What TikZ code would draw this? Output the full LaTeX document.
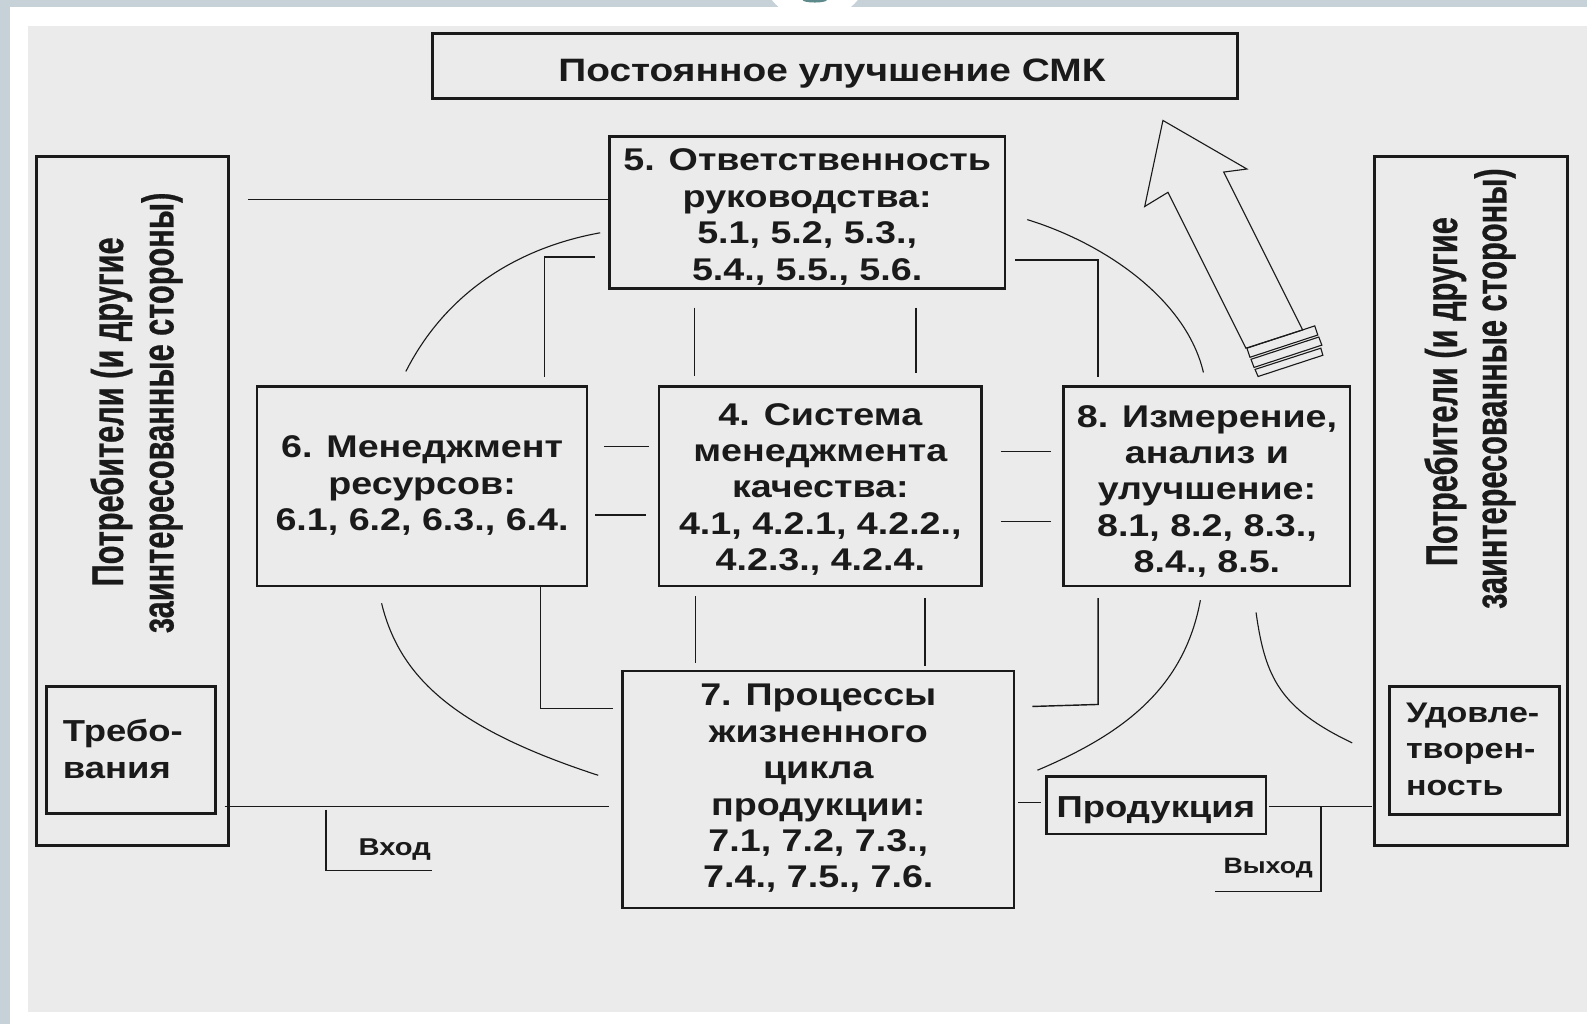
\documentclass[tikz,border=0pt]{standalone}
\usepackage{fontspec}
\setmainfont{Liberation Sans}
\newfontfamily\bx[FakeStretch=1.2]{Liberation Sans}
\newfontfamily\nw[FakeStretch=0.69,FakeBold=0.6]{Liberation Sans}
\definecolor{ink}{HTML}{1A1A1A}
\definecolor{barc}{HTML}{C6D1D8}
\definecolor{panel}{HTML}{EBEBEB}
\definecolor{dot}{HTML}{5E8A8C}
\tikzset{
  frame/.style={draw=ink, line width=2.6pt, inner sep=0pt},
  txt/.style={inner sep=0pt, align=center, text=ink,
    font=\bx\bfseries\fontsize{31}{36}\selectfont},
  side/.style={draw=ink, line width=2.8pt, inner sep=0pt},
  rot/.style={inner sep=0pt, rotate=90, text=ink, font=\nw\bfseries\fontsize{44}{48}\selectfont},
  conn/.style={draw=ink, line width=1.4pt},
  curv/.style={draw=ink, line width=1.1pt},
  lbl/.style={inner sep=0pt, text=ink, font=\bx\bfseries\fontsize{24}{28}\selectfont},
  arr/.style={draw=ink, line width=1.1pt, line join=miter}
}
\begin{document}
\begin{tikzpicture}[x=1pt,y=-1pt]
\useasboundingbox (0,0) rectangle (1568,1012);
% background
\fill[barc] (0,0) rectangle (1568,1012);
\fill[white] (10,7) rectangle (1568,1012);
\begin{scope}
  \clip (0,0) rectangle (1568,1012);
  \fill[white] (805,-35) circle (55);
  \fill[dot] (805,0) ellipse (12 and 2.5);
\end{scope}
\fill[panel] (28,26) rectangle (1568,1000);

% top box
\node[frame, line width=3.2pt, minimum width=796, minimum height=64] (top) at (825,65) {};
\node[txt, font=\bx\bfseries\fontsize{32}{36}\selectfont] (topt) at (822,73) {Постоянное улучшение СМК};

% side panels
\node[side, minimum width=190, minimum height=680] (lp) at (131,495) {};
\node[side, minimum width=191, minimum height=680] (rp) at (1453.5,495) {};
\node[rot] (lt1) at (110,407) {Потребители (и другие};
\node[rot] (lt2) at (160,408) {заинтересованные стороны)};
\node[rot] (rt1) at (1428,387) {Потребители (и другие};
\node[rot] (rt2) at (1477,384) {заинтересованные стороны)};

\node[side, minimum width=167, minimum height=126] (treb) at (129.5,741) {};
\node[txt, anchor=west, align=left, font=\bx\bfseries\fontsize{30}{36}\selectfont] (trebt) at (62,740) {Требо-\\вания};
\node[side, minimum width=168, minimum height=127] (udov) at (1457,741.5) {};
\node[txt, anchor=west, align=left, font=\bx\bfseries\fontsize{28}{36}\selectfont] (udovt) at (1389,740) {Удовле-\\творен-\\ность};

% main boxes
\node[frame, minimum width=391, minimum height=150] (b5) at (797.5,210) {};
\node[txt] (b5t) at (797.5,214.5)
  {5. Ответственность\\руководства:\\5.1, 5.2, 5.3.,\\5.4., 5.5., 5.6.};
\node[frame, minimum width=326, minimum height=197] (b6) at (417,480.5) {};
\node[txt] (b6t) at (417,480)
  {6. Менеджмент\\ресурсов:\\6.1, 6.2, 6.3., 6.4.};
\node[frame, minimum width=319, minimum height=197] (b4) at (810.5,480.5) {};
\node[txt] (b4t) at (810.5,483.5)
  {4. Система\\менеджмента\\качества:\\4.1, 4.2.1, 4.2.2.,\\4.2.3., 4.2.4.};
\node[frame, minimum width=283, minimum height=197] (b8) at (1192.5,480.5) {};
\node[txt] (b8t) at (1192.5,485.5)
  {8. Измерение,\\анализ и\\улучшение:\\8.1, 8.2, 8.3.,\\8.4., 8.5.};
\node[frame, minimum width=387, minimum height=234] (b7) at (808.5,780) {};
\node[txt] (b7t) at (808.5,779)
  {7. Процессы\\жизненного\\цикла\\продукции:\\7.1, 7.2, 7.3.,\\7.4., 7.5., 7.6.};
\node[frame, minimum width=217, minimum height=57] (prod) at (1142.5,795.5) {};
\node[txt, font=\bx\bfseries\fontsize{30}{36}\selectfont] (prodt) at (1142,800) {Продукция};

% labels
\node[lbl] (vhod) at (390,839) {Вход};
\node[lbl, font=\bx\bfseries\fontsize{22}{26}\selectfont] (vyhod) at (1253,858) {Выход};

% coordinates for free connector ends
\coordinate (a1) at (245,197);
\coordinate (a2) at (588,254); \coordinate (a3) at (538,254); \coordinate (a4) at (538,372);
\coordinate (a5) at (686,304); \coordinate (a6) at (686,371);
\coordinate (a7) at (905,304); \coordinate (a8) at (905,369);
\coordinate (a9) at (1003,257); \coordinate (a10) at (1085,257); \coordinate (a11) at (1085,372);
\coordinate (h1) at (597,441); \coordinate (h2) at (641,441);
\coordinate (h3) at (588,509); \coordinate (h4) at (638,509);
\coordinate (h5) at (989,446); \coordinate (h6) at (1038,446);
\coordinate (h7) at (989,515); \coordinate (h8) at (1038,515);
\coordinate (v1) at (687,589); \coordinate (v2) at (687,655);
\coordinate (v3) at (914,591); \coordinate (v4) at (914,658);
\coordinate (g1) at (534,580); \coordinate (g2) at (534,700); \coordinate (g3) at (606,700);
\coordinate (g4) at (1085,591); \coordinate (g5) at (1085,696); \coordinate (g6) at (1020,698);
\coordinate (in1) at (222,797); \coordinate (in2) at (602,797);
\coordinate (vx1) at (322,800); \coordinate (vx2) at (322,860); \coordinate (vx3) at (427,860);
\coordinate (p1) at (1006,793); \coordinate (p2) at (1029,793);
\coordinate (o1) at (1254,797); \coordinate (o2) at (1356,797);
\coordinate (y1) at (1305,797); \coordinate (y2) at (1305,881); \coordinate (y3) at (1200,881);

% straight connectors
\draw[conn] (a1) -- (b5.west |- a1);
\draw[conn] (a2) -- (a3) -- (a4);
\draw[conn] (a5) -- (a6);
\draw[conn] (a7) -- (a8);
\draw[conn] (a9) -- (a10) -- (a11);
\draw[conn] (h1) -- (h2);
\draw[conn] (h3) -- (h4);
\draw[conn] (h5) -- (h6);
\draw[conn] (h7) -- (h8);
\draw[conn] (v1) -- (v2);
\draw[conn] (v3) -- (v4);
\draw[conn] (g1) -- (g2) -- (g3);
\draw[conn] (g4) -- (g5) -- (g6);
\draw[conn] (in1) -- (in2);
\draw[conn] (vx1) -- (vx2) -- (vx3);
\draw[conn] (p1) -- (p2);
\draw[conn] (o1) -- (o2);
\draw[conn] (y1) -- (y2) -- (y3);

% curves
\coordinate (c1s) at (593,230); \coordinate (c1e) at (401,367);
\coordinate (c2s) at (1015,217); \coordinate (c2e) at (1189,368);
\coordinate (c3s) at (377,596); \coordinate (c3e) at (591,766);
\coordinate (c4s) at (1186,593); \coordinate (c4e) at (1025,761);
\coordinate (c5s) at (1241,605); \coordinate (c5e) at (1336,734);
\draw[curv] (c1s) .. controls (510,245) and (440,290) .. (c1e);
\draw[curv] (c2s) .. controls (1090,240) and (1172,295) .. (c2e);
\draw[curv] (c3s) .. controls (395,670) and (450,720) .. (c3e);
\draw[curv] (c4s) .. controls (1170,680) and (1110,725) .. (c4e);
\draw[curv] (c5s) .. controls (1250,670) and (1265,700) .. (c5e);

% big hollow arrow
\draw[arr] (1149,119) -- (1232,167) -- (1209,170) -- (1287,326) -- (1231,344)
  -- (1154,190) -- (1131,204) -- cycle;
\draw[arr] (1232,344) -- (1299,322) -- (1302,331) -- (1235,353) -- cycle;
\draw[arr] (1236,355) -- (1303,333) -- (1306,341) -- (1239,363) -- cycle;
\draw[arr] (1240,365) -- (1305,344) -- (1307,351) -- (1243,372) -- cycle;
\end{tikzpicture}
\end{document}
